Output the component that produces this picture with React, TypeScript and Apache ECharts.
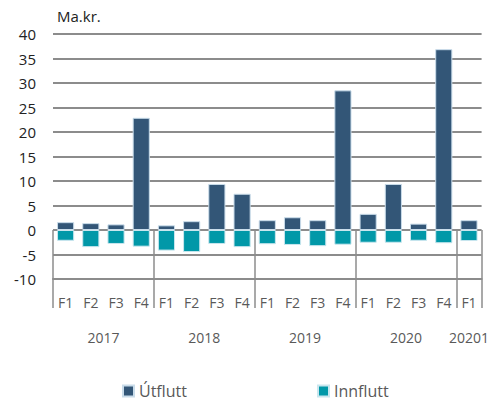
import React, { useEffect, useRef } from "react";
import * as echarts from "echarts";

const quarters = ["F1","F2","F3","F4","F1","F2","F3","F4","F1","F2","F3","F4","F1","F2","F3","F4","F1"];
const years = ["2017", "2018", "2019", "2020", "20201"];
const yearSizes = [4, 4, 4, 4, 1];
const utflutt = [1.6, 1.4, 1.15, 22.9, 0.95, 1.8, 9.4, 7.4, 2.0, 2.6, 2.0, 28.5, 3.3, 9.4, 1.3, 36.9, 2.0];
const innflutt = [-2.2, -3.5, -2.85, -3.4, -4.2, -4.5, -2.85, -3.5, -2.9, -3.05, -3.3, -3.0, -2.6, -2.6, -2.2, -2.7, -2.25];
const yTicks = { min: -10, max: 40, interval: 5 };

const FONT = "'Open Sans', 'Noto Sans', sans-serif";

export default function App() {
  const ref = useRef<HTMLDivElement>(null);
  useEffect(() => {
    if (!ref.current) return;
    const chart = echarts.init(ref.current, null, { renderer: "svg" });
    const bounds: number[] = [0];
    const centers: number[] = [];
    yearSizes.forEach((s) => {
      const start = bounds[bounds.length - 1];
      centers.push(start + s / 2);
      bounds.push(start + s);
    });
    const total = quarters.length;
    chart.setOption({
      animation: false,
      textStyle: { fontFamily: FONT },
      grid: { left: 53, right: 9, top: 34, bottom: 124, containLabel: false },
      graphic: [
        {
          type: "text",
          left: 57,
          top: 8,
          style: { text: "Ma.kr.", font: `15px ${FONT}`, fill: "#222" },
        },
      ],
      legend: {
        left: 122,
        top: 381,
        padding: 0,
        itemWidth: 11,
        itemHeight: 11,
        itemGap: 130,
        icon: "rect",
        textStyle: { fontSize: 16, color: "#595959", fontFamily: FONT, lineHeight: 20 },
        data: ["Útflutt", "Innflutt"],
      },
      xAxis: [
        {
          type: "category",
          data: quarters,
          position: "bottom",
          axisLine: { show: true, onZero: false, lineStyle: { color: "#8c8c8c", width: 2 } },
          axisTick: { show: false },
          axisLabel: { color: "#595959", fontSize: 14, margin: 16, interval: 0, fontFamily: FONT },
          splitLine: { show: false },
        },
        {
          type: "value",
          min: 0,
          max: total,
          position: "bottom",
          axisLine: { show: false },
          splitLine: { show: false },
          axisTick: {
            show: true,
            customValues: bounds,
            length: 78,
            lineStyle: { color: "#8c8c8c", width: 1.5 },
          },
          axisLabel: {
            show: true,
            customValues: centers,
            margin: 51,
            color: "#595959",
            fontSize: 14,
            fontFamily: FONT,
            formatter: (v: number) => {
              const i = centers.findIndex((c) => Math.abs(c - v) < 1e-6);
              return i >= 0 ? years[i] : "";
            },
          },
        },
      ],
      yAxis: {
        type: "value",
        min: yTicks.min,
        max: yTicks.max,
        interval: yTicks.interval,
        axisLine: { show: false },
        axisTick: { show: false },
        axisLabel: { color: "#222", fontSize: 15, margin: 17, fontFamily: FONT },
        splitLine: { lineStyle: { color: "#8c8c8c", width: 2 } },
      },
      series: [
        {
          name: "Útflutt",
          type: "bar",
          stack: "s",
          data: utflutt,
          barWidth: "68%",
          itemStyle: { color: "#335677", borderColor: "#c9dcea", borderWidth: 1 },
        },
        {
          name: "Innflutt",
          type: "bar",
          stack: "s",
          data: innflutt,
          barWidth: "68%",
          itemStyle: { color: "#0198a8", borderColor: "#c9e6ee", borderWidth: 1 },
        },
      ],
    });
    return () => chart.dispose();
  }, []);
  return <div ref={ref} style={{ width: 492, height: 403, position: "absolute", left: 0, top: 0 }} />;
}
